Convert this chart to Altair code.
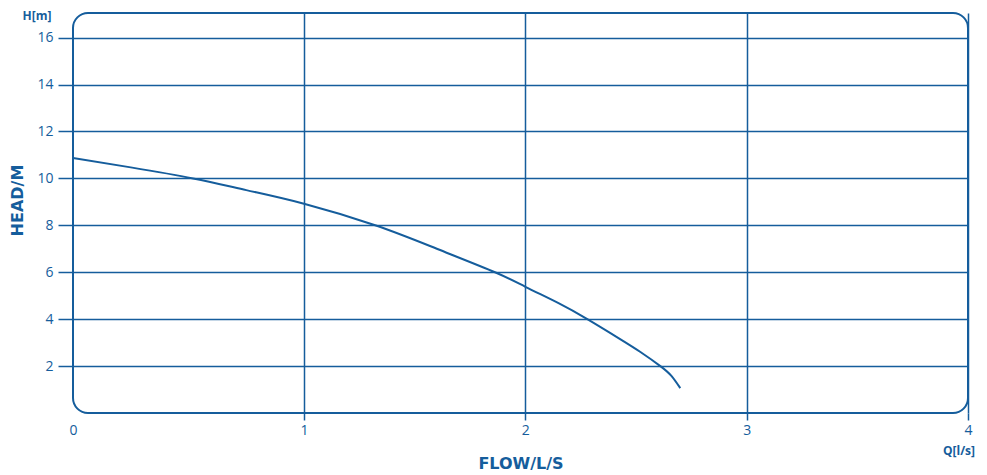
import altair as alt
import pandas as pd

# Pump curve
flow = [0.0, 0.25, 0.52, 0.75, 1.0, 1.325, 1.6, 1.863, 2.0, 2.15, 2.28, 2.43, 2.52, 2.61, 2.66, 2.70]
head = [10.87, 10.47, 10.0, 9.5, 8.92, 7.99, 7.0, 6.0, 5.38, 4.68, 4.0, 3.14, 2.6, 2.0, 1.58, 1.06]

x_ticks = [0, 1, 2, 3, 4]
y_ticks = [2, 4, 6, 8, 10, 12, 14, 16]

BLUE = "#155d9c"
FONT = "Open Sans"
TITLE_FONT = "DejaVu Sans"

df = pd.DataFrame({"Q": flow, "H": head})

x_scale = alt.Scale(domain=[0, 1, 4], range=[0, 231, 895], nice=False, zero=False)
y_scale = alt.Scale(domain=[0, 17.05], nice=False, zero=False)

line = alt.Chart(df).mark_line(color=BLUE, strokeWidth=2, interpolate="natural").encode(
    x=alt.X("Q:Q", scale=x_scale, axis=alt.Axis(
        values=x_ticks, grid=True, gridColor=BLUE, gridWidth=1.5,
        gridOpacity=alt.condition("datum.value == 0", alt.value(0), alt.value(1)),
        domain=False, ticks=True, tickSize=7, tickColor=BLUE, tickWidth=1.5,
        tickOpacity=alt.condition("datum.value == 0", alt.value(0), alt.value(1)),
        labelFlush=False, labelFontSize=14, labelColor=BLUE, labelFont=FONT, labelPadding=3,
        title="FLOW/L/S", titleFontSize=16, titleFontWeight="bold", titleColor=BLUE,
        titleFont=TITLE_FONT, titleY=50, titleBaseline="middle")),
    y=alt.Y("H:Q", scale=y_scale, axis=alt.Axis(
        values=y_ticks, grid=True, gridColor=BLUE, gridWidth=1.5,
        domain=False, ticks=True, tickSize=15, tickColor=BLUE, tickWidth=1.5,
        labelFontSize=14, labelColor=BLUE, labelFont=FONT, labelPadding=5,
        title="HEAD/M", titleFontSize=16, titleFontWeight="bold", titleColor=BLUE,
        titleFont=TITLE_FONT, titleX=-56, titleY=187, titleBaseline="middle")),
)

ann = pd.DataFrame({"t": [0]})
h_label = alt.Chart(ann).mark_text(text="H[m]", fontSize=12, fontWeight="bold", color=BLUE,
                                   font=FONT, align="center", baseline="middle").encode(
    x=alt.value(-36), y=alt.value(3))
q_label = alt.Chart(ann).mark_text(text="Q[l/s]", fontSize=12, fontWeight="bold", color=BLUE,
                                   font=FONT, align="center", baseline="middle").encode(
    x=alt.value(886), y=alt.value(438))

chart = alt.layer(line, h_label, q_label).properties(
    width=895, height=400,
    autosize=alt.AutoSizeParams(type="none"),
    padding={"left": 65, "top": 5, "right": 11, "bottom": 58},
).configure_view(
    stroke=BLUE, strokeWidth=2, cornerRadius=15
)

chart.save("out.html", embed_options={"renderer": "svg", "actions": False})
